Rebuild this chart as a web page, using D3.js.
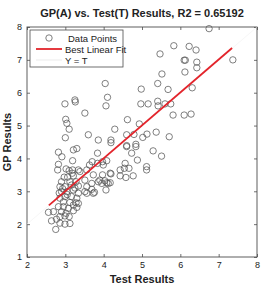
<!DOCTYPE html>
<html>
<head>
<meta charset="utf-8">
<script src="https://cdn.jsdelivr.net/npm/d3@7"></script>
<style>
  body { margin: 0; background: #fff; }
  svg { display: block; font-family: "Liberation Sans", Arial, sans-serif; }
</style>
</head>
<body>
<div id="chart"></div>
<script>
// test results (x) and GP results (y)
const testX = [6.75, 5.83, 6.23, 6.41, 5.47, 6.10, 6.13, 6.43, 7.37, 6.43, 6.12, 5.52, 4.04, 5.41, 4.98, 5.68, 6.31, 4.10, 3.25, 5.41,
  2.99, 3.26, 4.06, 4.97, 5.16, 5.42, 5.60, 5.75, 3.51, 5.81, 6.10, 6.28, 3.01, 3.04, 4.62, 3.10, 4.29, 4.93, 3.00, 3.60,
  3.86, 4.19, 4.19, 4.60, 4.79, 5.02, 5.13, 5.37, 5.71, 4.60, 4.60, 4.84, 4.84, 2.82, 2.91, 3.21, 3.30, 3.19, 3.84, 4.73,
  5.29, 5.51, 4.88, 2.82, 3.70, 3.84, 3.97, 3.99, 4.08, 3.63, 3.56, 4.56, 4.43, 4.54, 4.66, 5.12, 5.12, 4.77, 4.43, 4.58,
  4.17, 4.06, 4.08, 4.17, 3.02, 3.10, 3.19, 3.34, 3.73, 3.97, 2.97, 3.06, 3.21, 2.80, 3.38, 3.18, 2.90, 3.12, 3.28, 3.51,
  3.69, 3.90, 3.86, 3.95, 4.12, 2.86, 2.99, 3.16, 3.34, 3.56, 3.69, 3.73, 3.51, 2.90, 3.04, 3.21, 3.34, 2.99, 3.16, 3.30,
  2.86, 2.95, 3.12, 3.21, 3.34, 2.95, 2.82, 3.08, 2.69, 2.90, 3.02, 3.21, 2.56, 2.77, 2.64, 2.86, 2.99, 3.12, 2.75, 2.86,
  2.99, 3.10, 3.30, 3.28, 3.76, 3.56, 4.19, 4.03, 2.93, 3.05, 2.84, 3.25];
const gpY = [7.95, 7.43, 7.41, 7.30, 7.18, 6.99, 6.99, 6.93, 7.00, 6.76, 6.63, 6.57, 6.28, 6.28, 6.11, 6.10, 6.15, 5.86, 5.78, 5.74,
  5.66, 5.72, 5.60, 5.66, 5.66, 5.60, 5.66, 5.66, 5.38, 5.32, 5.32, 5.35, 5.19, 5.07, 5.18, 4.89, 4.89, 5.05, 4.63, 4.72,
  4.56, 4.56, 4.48, 4.72, 4.73, 4.64, 4.74, 4.80, 4.66, 4.39, 4.36, 4.43, 4.36, 4.19, 4.05, 4.26, 4.30, 3.93, 4.16, 4.16,
  4.23, 4.07, 3.95, 3.82, 3.90, 3.85, 3.90, 3.80, 3.93, 3.80, 3.65, 3.85, 3.65, 3.70, 3.70, 3.75, 3.65, 3.47, 3.47, 3.42,
  3.55, 3.04, 3.26, 3.26, 3.68, 3.63, 3.65, 3.65, 3.50, 3.50, 3.43, 3.43, 3.47, 3.65, 3.60, 3.55, 3.29, 3.29, 3.29, 3.34,
  3.24, 3.34, 3.29, 3.24, 3.24, 3.14, 3.14, 3.19, 3.16, 3.14, 3.06, 2.94, 2.99, 2.99, 2.99, 3.04, 2.94, 2.84, 2.84, 2.79,
  2.79, 2.68, 2.66, 2.58, 2.63, 2.53, 2.53, 2.48, 2.38, 2.38, 2.33, 2.41, 2.36, 2.15, 2.10, 2.03, 2.00, 2.02, 1.84, 2.23,
  2.25, 2.23, 2.51, 2.65, 2.97, 2.94, 3.53, 3.32, 3.08, 2.90, 2.95, 3.10];

// best linear fit end points and the Y = T reference
const fitX = [2.57, 7.35];
const fitY = [2.57, 7.36];
const idX = [2, 8];
const idY = [2, 8];

const xTicks = [2, 3, 4, 5, 6, 7, 8];
const yTicks = [1, 2, 3, 4, 5, 6, 7, 8];
const legendItems = ["Data Points", "Best Linear Fit", "Y = T"];

const w = 264, h = 286, margin = {top: 27, right: 7, bottom: 29, left: 27};
const svg = d3.select("#chart").append("svg").attr("width", w).attr("height", h);

const x = d3.scaleLinear().domain([2, 8]).range([margin.left, w - margin.right]);
const y = d3.scaleLinear().domain([1, 8]).range([h - margin.bottom, margin.top]);

const axisCol = "#4d4d4d";
const tickLen = 3;

// frame with inward ticks on all sides
const styleAxis = g => {
  g.select(".domain").remove();
  g.selectAll("line").attr("stroke", axisCol).attr("stroke-width", 0.8);
  g.selectAll("text").attr("fill", "#222").style("font-size", "9px");
};
svg.append("g").attr("transform", `translate(0,${y(1)})`)
  .call(d3.axisBottom(x).tickValues(xTicks).tickSizeInner(-tickLen).tickSizeOuter(0).tickPadding(5).tickFormat(d3.format("d")))
  .call(styleAxis);
svg.append("g").attr("transform", `translate(0,${y(8)})`)
  .call(d3.axisTop(x).tickValues(xTicks).tickSizeInner(-tickLen).tickSizeOuter(0).tickFormat(""))
  .call(styleAxis);
svg.append("g").attr("transform", `translate(${x(2)},0)`)
  .call(d3.axisLeft(y).tickValues(yTicks).tickSizeInner(-tickLen).tickSizeOuter(0).tickPadding(5).tickFormat(d3.format("d")))
  .call(styleAxis);
svg.append("g").attr("transform", `translate(${x(8)},0)`)
  .call(d3.axisRight(y).tickValues(yTicks).tickSizeInner(-tickLen).tickSizeOuter(0).tickFormat(""))
  .call(styleAxis);

svg.append("rect")
  .attr("x", x(2)).attr("y", y(8))
  .attr("width", x(8) - x(2)).attr("height", y(1) - y(8))
  .attr("fill", "none").attr("stroke", axisCol).attr("stroke-width", 0.9);

// Y = T (very faint)
const line = d3.line().x(d => x(d[0])).y(d => y(d[1]));
svg.append("path").datum(d3.zip(idX, idY)).attr("d", line)
  .attr("stroke", "#f0f0f0").attr("stroke-width", 0.6).attr("fill", "none");

// data points
svg.append("g").selectAll("circle").data(d3.zip(testX, gpY)).join("circle")
  .attr("cx", d => x(d[0])).attr("cy", d => y(d[1])).attr("r", 3.2)
  .attr("fill", "none").attr("stroke", "#555").attr("stroke-width", 0.75);

// best linear fit
svg.append("path").datum(d3.zip(fitX, fitY)).attr("d", line)
  .attr("stroke", "#e3242b").attr("stroke-width", 1.8).attr("fill", "none");

// legend
const lg = svg.append("g").attr("transform", "translate(30,30)");
lg.append("rect").attr("width", 93).attr("height", 37)
  .attr("fill", "#fff").attr("stroke", axisCol).attr("stroke-width", 0.8);
const rowY = [8, 19, 30];
lg.append("circle").attr("cx", 19).attr("cy", rowY[0]).attr("r", 3.2)
  .attr("fill", "none").attr("stroke", "#555").attr("stroke-width", 0.75);
lg.append("line").attr("x1", 6).attr("x2", 32).attr("y1", rowY[1]).attr("y2", rowY[1])
  .attr("stroke", "#e3242b").attr("stroke-width", 1.8);
lg.append("line").attr("x1", 6).attr("x2", 32).attr("y1", rowY[2]).attr("y2", rowY[2])
  .attr("stroke", "#dddddd").attr("stroke-width", 0.6);
lg.selectAll("text.lbl").data(legendItems).join("text").attr("class", "lbl")
  .attr("x", (d, i) => i === 0 ? 38 : 35).attr("y", (d, i) => rowY[i] + 3.5)
  .text(d => d).style("font-size", "9.5px").attr("fill", "#222");

// title and axis labels
svg.append("text").attr("x", 142).attr("y", 17).attr("text-anchor", "middle")
  .style("font-size", "11px").style("font-weight", "bold").attr("fill", "#222")
  .text("GP(A) vs. Test(T) Results, R2 = 0.65192");
svg.append("text").attr("x", 142).attr("y", 282.5).attr("text-anchor", "middle")
  .style("font-size", "11px").style("font-weight", "bold").attr("fill", "#222")
  .text("Test Results");
svg.append("text").attr("transform", "translate(11,142) rotate(-90)").attr("text-anchor", "middle")
  .style("font-size", "11px").style("font-weight", "bold").attr("fill", "#222")
  .text("GP Results");
</script>
</body>
</html>
